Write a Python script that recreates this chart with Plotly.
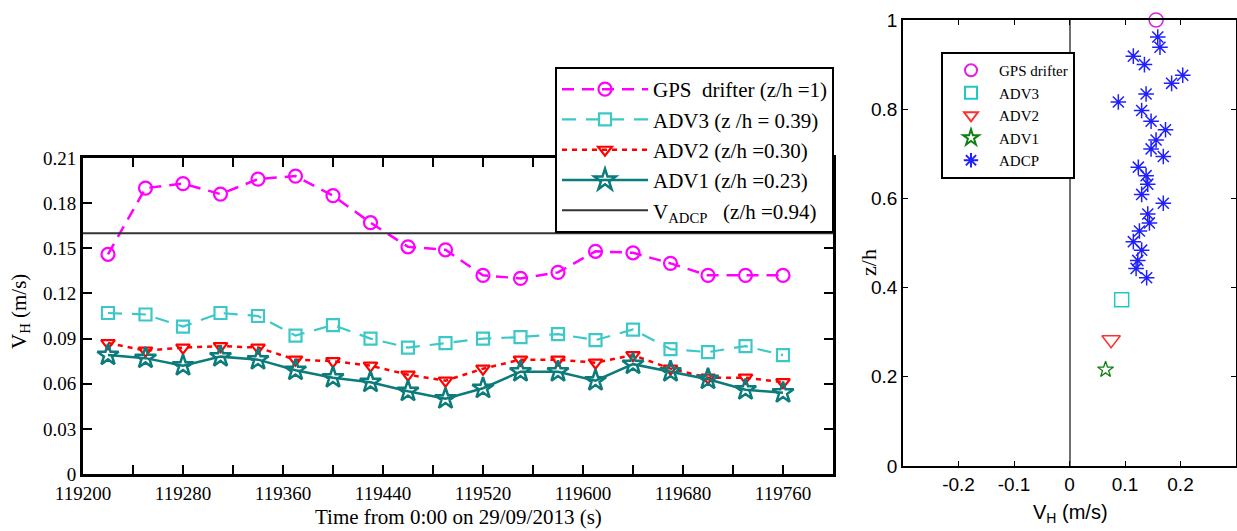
import plotly.graph_objects as go

# ---------------- data: left panel (time series) ----------------
time_s = [119220, 119250, 119280, 119310, 119340, 119370, 119400, 119430, 119460, 119490,
          119520, 119550, 119580, 119610, 119640, 119670, 119700, 119730, 119760]
gps_drifter = [0.146, 0.190, 0.193, 0.186, 0.196, 0.198, 0.185, 0.167, 0.151, 0.149,
               0.132, 0.130, 0.134, 0.148, 0.147, 0.140, 0.132, 0.132, 0.132]
adv3 = [0.107, 0.106, 0.098, 0.107, 0.105, 0.092, 0.099, 0.090, 0.084, 0.087,
        0.090, 0.091, 0.093, 0.089, 0.096, 0.083, 0.081, 0.085, 0.079]
adv2 = [0.087, 0.082, 0.084, 0.085, 0.084, 0.076, 0.075, 0.072, 0.066, 0.062,
        0.070, 0.076, 0.076, 0.074, 0.079, 0.070, 0.064, 0.064, 0.061]
adv1 = [0.079, 0.077, 0.072, 0.078, 0.076, 0.069, 0.064, 0.061, 0.055, 0.050,
        0.057, 0.068, 0.068, 0.062, 0.073, 0.068, 0.063, 0.056, 0.054]
v_adcp = 0.16
left_x_range = [119200, 119800]
left_x_tickvals = [119200, 119240, 119280, 119320, 119360, 119400, 119440, 119480,
                   119520, 119560, 119600, 119640, 119680, 119720, 119760, 119800]
left_x_ticktext = ["119200", " ", "119280", " ", "119360", " ", "119440", " ",
                   "119520", " ", "119600", " ", "119680", " ", "119760", " "]
left_y_tickvals = [0, 0.03, 0.06, 0.09, 0.12, 0.15, 0.18, 0.21]
left_y_ticktext = ["0", "0.03", "0.06", "0.09", "0.12", "0.15", "0.18", "0.21"]

# ---------------- data: right panel (profile) ----------------
gps_profile_v = [0.156]
gps_profile_z = [1.0]
adv3_profile_v = [0.094]
adv3_profile_z = [0.373]
adv2_profile_v = [0.075]
adv2_profile_z = [0.283]
adv1_profile_v = [0.065]
adv1_profile_z = [0.216]
adcp_v = [0.159, 0.163, 0.115, 0.135, 0.204, 0.184, 0.138, 0.088, 0.130, 0.147,
          0.173, 0.156, 0.147, 0.169, 0.124, 0.138, 0.141, 0.130, 0.169, 0.141,
          0.144, 0.126, 0.115, 0.130, 0.123, 0.120, 0.139]
adcp_z = [0.962, 0.939, 0.919, 0.900, 0.876, 0.858, 0.834, 0.816, 0.797, 0.773,
          0.754, 0.731, 0.711, 0.694, 0.670, 0.651, 0.632, 0.609, 0.589, 0.565,
          0.545, 0.527, 0.503, 0.484, 0.461, 0.443, 0.422]
right_x_tickvals = [-0.2, -0.1, 0, 0.1, 0.2]
right_x_ticktext = ["-0.2", "-0.1", "0", "0.1", "0.2"]
right_y_tickvals = [0, 0.2, 0.4, 0.6, 0.8, 1.0]
right_y_ticktext = ["0", "0.2", "0.4", "0.6", "0.8", "1"]

SERIF = "Liberation Serif"
SANS = "Liberation Sans"
MAGENTA = "#ff00ff"
CYAN = "#3cc8c8"
RED = "#ff0000"
TEAL = "#0b7b7b"

fig = go.Figure()

# ---- left panel traces ----
fig.add_trace(go.Scatter(
    x=time_s, y=gps_drifter, mode="lines+markers", name="GPS&nbsp; drifter (z/h =1)",
    line=dict(color=MAGENTA, width=2.5, dash="12px,8px"),
    marker=dict(symbol="circle-open", size=13, color=MAGENTA, line=dict(width=2.2, color=MAGENTA)),
    xaxis="x", yaxis="y", legend="legend"))
fig.add_trace(go.Scatter(
    x=time_s, y=adv3, mode="lines+markers", name="ADV3 (z /h = 0.39)",
    line=dict(color=CYAN, width=2.2, dash="14px,10px"),
    marker=dict(symbol="square-open", size=12, color=CYAN, line=dict(width=2.2, color=CYAN)),
    xaxis="x", yaxis="y", legend="legend"))
fig.add_trace(go.Scatter(
    x=time_s, y=adv2, mode="lines+markers", name="ADV2 (z/h =0.30)",
    line=dict(color=RED, width=2.5, dash="5px,5px"),
    marker=dict(symbol="triangle-down-open", size=12, color=RED, line=dict(width=2.2, color=RED)),
    xaxis="x", yaxis="y", legend="legend"))
fig.add_trace(go.Scatter(
    x=time_s, y=adv1, mode="lines+markers", name="ADV1 (z/h =0.23)",
    line=dict(color=TEAL, width=2.5),
    marker=dict(symbol="star-open", size=16, color=TEAL, line=dict(width=2.5, color=TEAL)),
    xaxis="x", yaxis="y", legend="legend"))
fig.add_trace(go.Scatter(
    x=left_x_range, y=[v_adcp, v_adcp], mode="lines", name="V<sub>ADCP</sub>&nbsp;&nbsp; (z/h =0.94)",
    line=dict(color="#333333", width=2),
    xaxis="x", yaxis="y", legend="legend"))

# ---- right panel traces ----
fig.add_trace(go.Scatter(
    x=gps_profile_v, y=gps_profile_z, mode="markers", name="GPS drifter", cliponaxis=False,
    marker=dict(symbol="circle-open", size=14, color="#e020e0", line=dict(width=1.5, color="#e020e0")),
    xaxis="x2", yaxis="y2", legend="legend2"))
fig.add_trace(go.Scatter(
    x=adv3_profile_v, y=adv3_profile_z, mode="markers", name="ADV3", cliponaxis=False,
    marker=dict(symbol="square-open", size=14, color="#20c8c8", line=dict(width=1.5, color="#20c8c8")),
    xaxis="x2", yaxis="y2", legend="legend2"))
fig.add_trace(go.Scatter(
    x=adv2_profile_v, y=adv2_profile_z, mode="markers", name="ADV2", cliponaxis=False,
    marker=dict(symbol="triangle-down-open", size=16, color="#ff3030", line=dict(width=1.5, color="#ff3030")),
    xaxis="x2", yaxis="y2", legend="legend2"))
fig.add_trace(go.Scatter(
    x=adv1_profile_v, y=adv1_profile_z, mode="markers", name="ADV1", cliponaxis=False,
    marker=dict(symbol="star-open", size=12, color="#108010", line=dict(width=1.3, color="#108010")),
    xaxis="x2", yaxis="y2", legend="legend2"))
fig.add_trace(go.Scatter(
    x=adcp_v, y=adcp_z, mode="markers", name="ADCP", cliponaxis=False,
    marker=dict(symbol="asterisk-open", size=13, color="#2020ff", line=dict(width=1.5, color="#2020ff")),
    xaxis="x2", yaxis="y2", legend="legend2"))

W, H = 1237, 531

fig.update_layout(
    width=W, height=H,
    margin=dict(l=0, r=0, t=0, b=0, autoexpand=False),
    paper_bgcolor="white", plot_bgcolor="white",
    font=dict(family=SERIF, color="black"),
    xaxis=dict(
        domain=[83 / W, 833 / W], range=left_x_range, anchor="y", automargin=False,
        tickmode="array", tickvals=left_x_tickvals, ticktext=left_x_ticktext,
        ticks="inside", ticklen=9, tickwidth=2, tickcolor="black",
        showline=True, linewidth=3, linecolor="black", mirror="ticks",
        showgrid=False, zeroline=False,
        tickfont=dict(family=SERIF, size=19, color="black"),
    ),
    yaxis=dict(
        domain=[(H - 474) / H, (H - 158) / H], range=[0, 0.21], anchor="x", automargin=False,
        tickmode="array", tickvals=left_y_tickvals, ticktext=left_y_ticktext,
        ticks="inside", ticklen=9, tickwidth=2, tickcolor="black",
        showline=True, linewidth=3, linecolor="black", mirror="ticks",
        showgrid=False, zeroline=False,
        tickfont=dict(family=SERIF, size=19, color="black"),
    ),
    xaxis2=dict(
        domain=[903 / W, 1236 / W], range=[-0.3, 0.3], anchor="y2", automargin=False,
        tickmode="array", tickvals=right_x_tickvals, ticktext=right_x_ticktext,
        ticks="inside", ticklen=5, tickwidth=1.2, tickcolor="black",
        showline=True, linewidth=1.5, linecolor="black", mirror="ticks",
        showgrid=False, zeroline=True, zerolinecolor="#707070", zerolinewidth=1.5,
        tickfont=dict(family=SANS, size=19, color="black"),
    ),
    yaxis2=dict(
        domain=[(H - 466) / H, (H - 20) / H], range=[0, 1], anchor="x2", automargin=False,
        tickmode="array", tickvals=right_y_tickvals, ticktext=right_y_ticktext,
        ticks="inside", ticklen=5, tickwidth=1.2, tickcolor="black",
        showline=True, linewidth=1.5, linecolor="black", mirror="ticks",
        showgrid=False, zeroline=False,
        tickfont=dict(family=SANS, size=19, color="black"),
    ),
    legend=dict(
        x=555 / W, y=(H - 67) / H, xanchor="left", yanchor="top",
        bgcolor="white", bordercolor="black", borderwidth=2,
        font=dict(family=SERIF, size=21, color="black"),
        itemwidth=86, tracegroupgap=0,
    ),
    legend2=dict(
        x=941 / W, y=(H - 52) / H, xanchor="left", yanchor="top",
        bgcolor="white", bordercolor="black", borderwidth=2,
        font=dict(family=SERIF, size=15, color="black"),
        itemsizing="constant", itemwidth=46, tracegroupgap=0,
    ),
    annotations=[
        dict(text="V<sub>H</sub> (m/s)", x=20 / W, y=(H - 312) / H, xref="paper", yref="paper",
             textangle=-90, showarrow=False, font=dict(family=SERIF, size=21, color="black"),
             xanchor="center", yanchor="middle"),
        dict(text="Time from 0:00 on 29/09/2013 (s)", x=458 / W, y=(H - 517) / H,
             xref="paper", yref="paper", showarrow=False,
             font=dict(family=SERIF, size=21, color="black"), xanchor="center", yanchor="middle"),
        dict(text="z/h", x=868 / W, y=(H - 263) / H, xref="paper", yref="paper",
             textangle=-90, showarrow=False, font=dict(family=SERIF, size=22, color="black"),
             xanchor="center", yanchor="middle"),
        dict(text="V<sub>H</sub> (m/s)", x=1070 / W, y=(H - 513) / H, xref="paper", yref="paper",
             showarrow=False, font=dict(family=SANS, size=20, color="black"),
             xanchor="center", yanchor="middle"),
    ],
)

fig.write_html("out.html")
